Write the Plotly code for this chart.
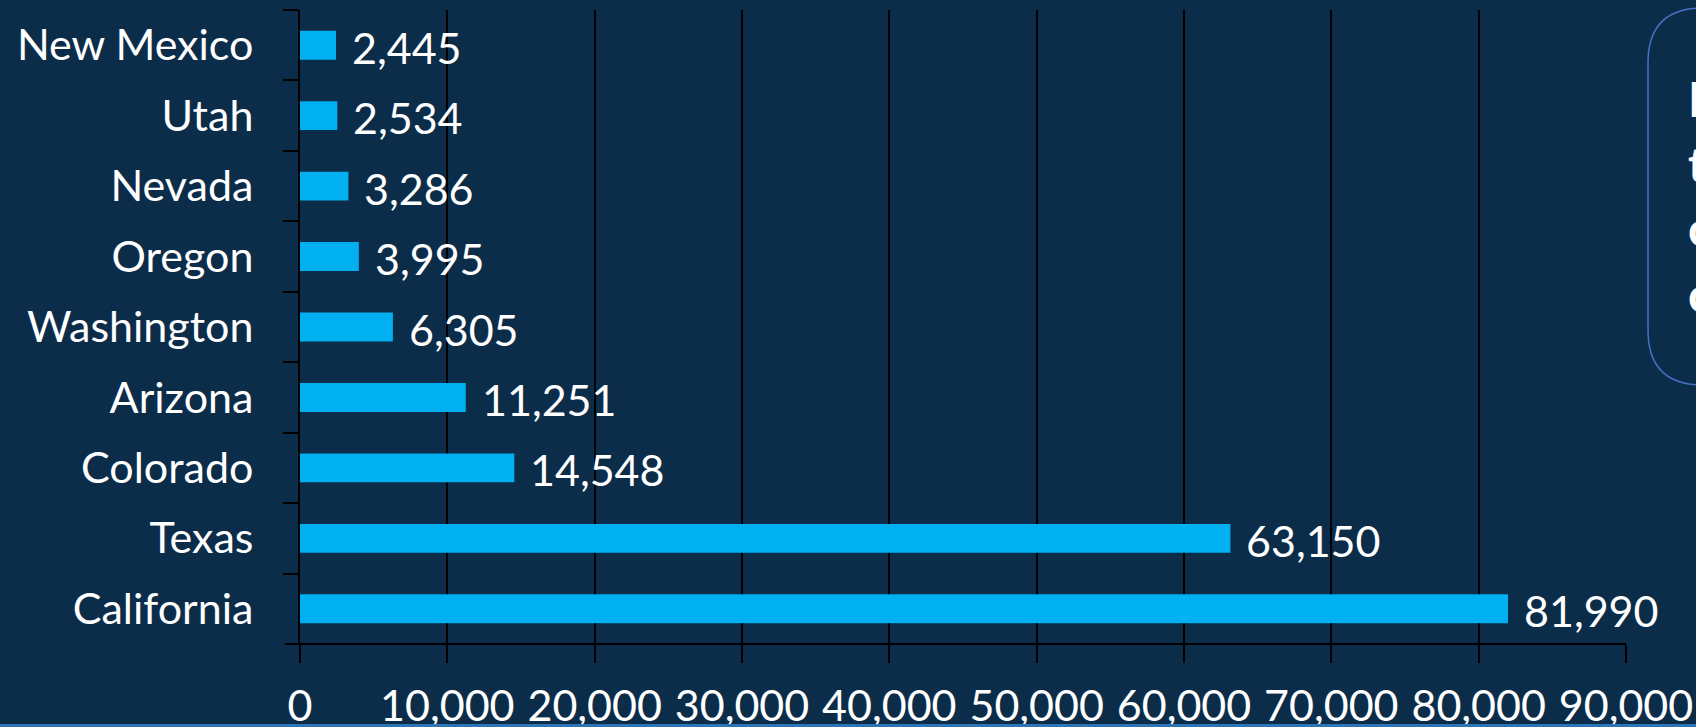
import plotly.graph_objects as go

states = ["New Mexico", "Utah", "Nevada", "Oregon", "Washington", "Arizona", "Colorado", "Texas", "California"]
values = [2445, 2534, 3286, 3995, 6305, 11251, 14548, 63150, 81990]
box_lines = ["In total,", "these", "counts", "combined"]

W, H = 1696, 727
L, R, T, B = 300, 70, 10, 83
PW, PH = W - L - R, H - T - B

def px(x):
    return (x - L) / PW

def py(y):
    return (H - B - y) / PH

BG = "rgb(12,45,74)"
FONT = "Lato"

fig = go.Figure()
fig.add_trace(go.Bar(
    x=values, y=states, orientation="h",
    marker=dict(color="#00B0F0", line=dict(width=0)),
    hoverinfo="x+y",
))

annotations = []
for s, v in zip(states, values):
    annotations.append(dict(
        x=v, y=s, xref="x", yref="y", text=f"{v:,}", showarrow=False,
        xanchor="left", yanchor="middle", xshift=14, yshift=-2,
        font=dict(family=FONT, size=43, color="white"),
    ))

# partial callout box text (cut by the right edge)
for i, t in enumerate(box_lines):
    annotations.append(dict(
        x=px(1686), y=py(98 + i * 65), xref="paper", yref="paper",
        text=f"<b>{t}</b>", showarrow=False, xanchor="left", yanchor="middle",
        font=dict(family=FONT, size=48, color="white"),
    ))

# rounded callout box
bx0, by0, bx1, by1, r = 1648, 8, 1800, 385, 55
path = (
    f"M {px(bx0 + r)} {py(by0)} L {px(bx1)} {py(by0)} L {px(bx1)} {py(by1)} "
    f"L {px(bx0 + r)} {py(by1)} Q {px(bx0)} {py(by1)} {px(bx0)} {py(by1 - r)} "
    f"L {px(bx0)} {py(by0 + r)} Q {px(bx0)} {py(by0)} {px(bx0 + r)} {py(by0)} Z"
)
shapes = [
    dict(type="path", xref="paper", yref="paper", path=path,
         line=dict(color="#4472C4", width=1.5), fillcolor="rgba(0,0,0,0)", layer="below"),
    # x-axis line extended to the left tick
    dict(type="line", xref="paper", yref="paper", x0=px(285), x1=1, y0=0, y1=0,
         line=dict(color="black", width=2)),
    # bottom accent line
    dict(type="line", xref="paper", yref="paper", x0=px(0), x1=px(W), y0=py(725.5), y1=py(725.5),
         line=dict(color="#2E75B6", width=3)),
]

fig.update_layout(
    width=W, height=H, autosize=False,
    margin=dict(l=L, r=R, t=T, b=B),
    paper_bgcolor=BG, plot_bgcolor=BG,
    font=dict(family=FONT, color="white", size=43),
    showlegend=False, bargap=0.59,
    annotations=annotations, shapes=shapes,
    xaxis=dict(
        range=[0, 90000], dtick=10000, tickformat=",", automargin=False,
        showgrid=True, gridcolor="black", gridwidth=2, zeroline=False,
        ticks="outside", ticklen=18, tickwidth=2, tickcolor="black",
        ticklabelstandoff=6, showline=False,
        tickfont=dict(family=FONT, size=43, color="white"),
    ),
    yaxis=dict(
        autorange="reversed", automargin=False,
        showline=True, linecolor="black", linewidth=2,
        ticks="outside", tickson="boundaries", ticklen=15, tickwidth=2, tickcolor="black",
        ticklabelstandoff=36, showgrid=False,
        tickfont=dict(family=FONT, size=43, color="white"),
    ),
)

fig.write_html(
    "out.html",
    config={"displayModeBar": False},
    post_script="document.body.style.margin='0';document.body.style.overflow='hidden';",
)
